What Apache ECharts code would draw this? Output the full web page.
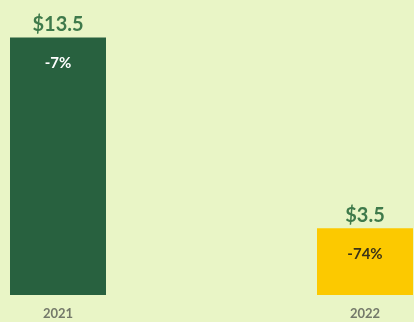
<!DOCTYPE html>
<html>
<head>
<meta charset="utf-8">
<script src="https://cdn.jsdelivr.net/npm/echarts@6/dist/echarts.min.js"></script>
<style>
  html, body { margin: 0; padding: 0; background: #e9f5c6; }
  #chart { width: 414px; height: 322px; }
</style>
</head>
<body>
<div id="chart"></div>
<script>
// Annual values (in $ billions) with year-over-year change
const years = ['2021', '2022'];
const values = [13.5, 3.5];
const changes = ['-7%', '-74%'];
const barColors = ['#28613f', '#fcc900'];
const changeColors = ['#ffffff', '#3b3418'];

const chart = echarts.init(document.getElementById('chart'));

chart.setOption({
  backgroundColor: '#e9f5c6',
  animation: false,
  grid: { left: 58, right: 49, top: 9, bottom: 27 },
  xAxis: {
    type: 'category',
    data: years,
    boundaryGap: false,
    axisLine: { show: false },
    axisTick: { show: false },
    axisLabel: {
      margin: 12,
      color: '#74796a',
      fontFamily: 'Lato',
      fontWeight: 'bold',
      fontSize: 13
    }
  },
  yAxis: {
    type: 'value',
    min: 0,
    max: 15,
    show: false
  },
  series: [
    {
      // value labels above each bar
      type: 'bar',
      barWidth: 96,
      clip: false,
      data: values.map((v, i) => ({ value: v, itemStyle: { color: barColors[i] } })),
      label: {
        show: true,
        position: 'top',
        distance: 3,
        formatter: p => '$' + p.value,
        color: '#3f7a4b',
        fontFamily: 'Lato',
        fontWeight: 'bold',
        fontSize: 20
      }
    },
    {
      // change labels inside each bar
      type: 'bar',
      barWidth: 96,
      barGap: '-100%',
      clip: false,
      silent: true,
      itemStyle: { color: 'transparent' },
      data: values.map((v, i) => ({
        value: v,
        label: {
          show: true,
          position: 'insideTop',
          distance: 18,
          formatter: changes[i],
          color: changeColors[i],
          fontFamily: 'Lato',
          fontWeight: 'bold',
          fontSize: 15
        }
      }))
    }
  ]
});
</script>
</body>
</html>
